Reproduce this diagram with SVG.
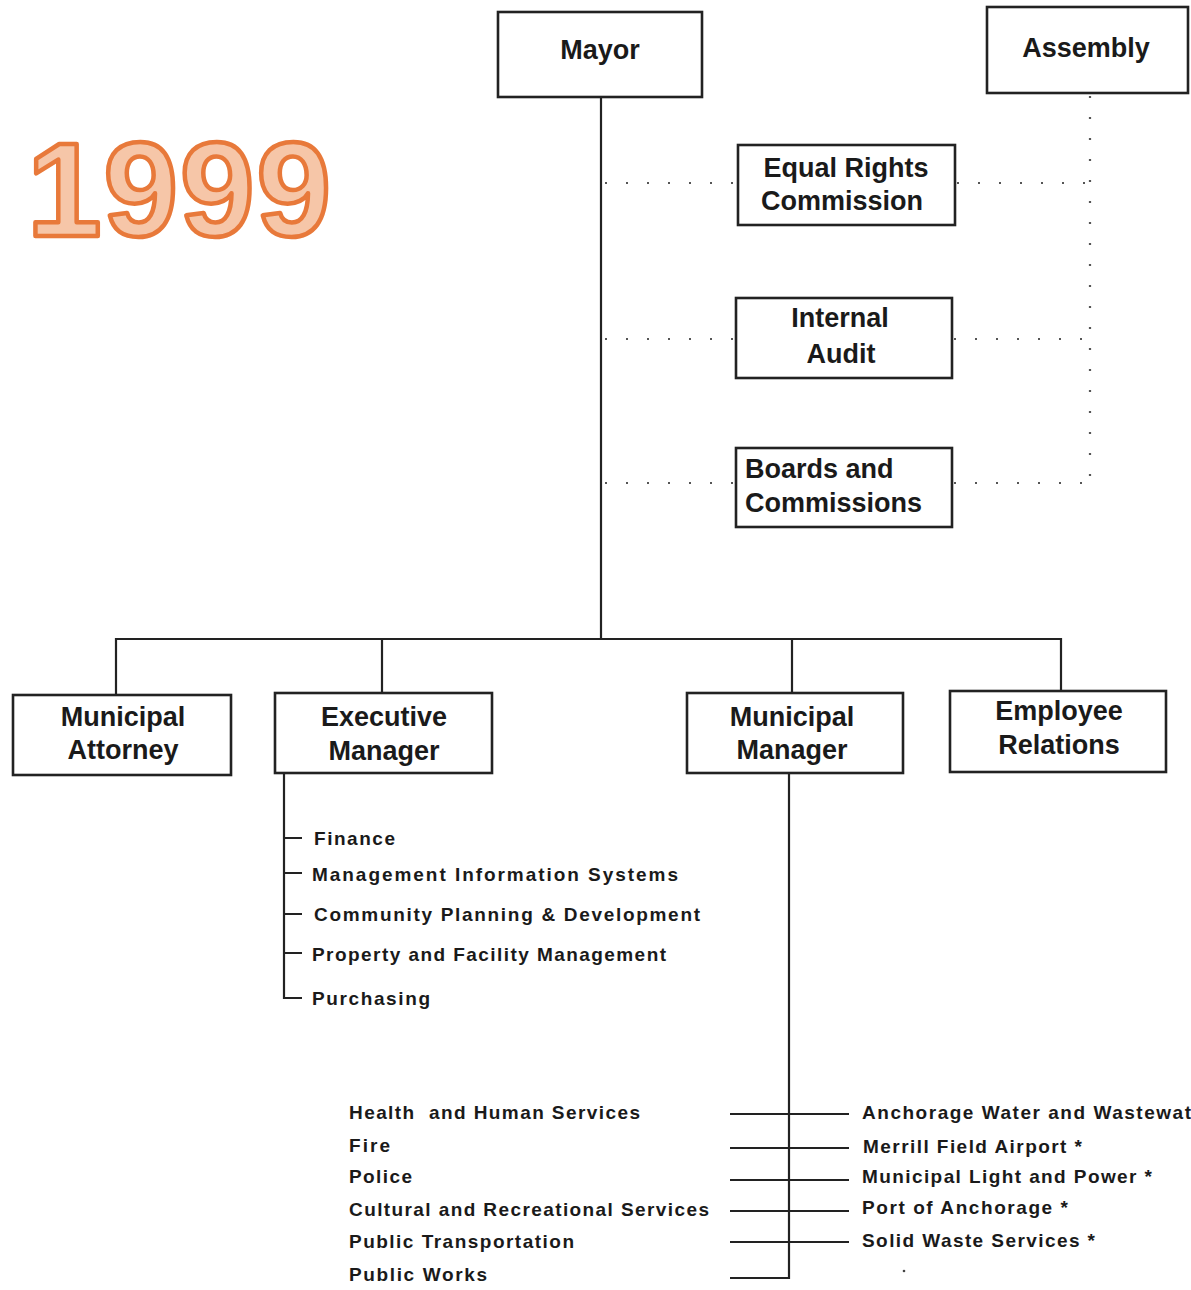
<svg xmlns="http://www.w3.org/2000/svg" width="1191" height="1290" viewBox="0 0 1191 1290">
<style>
.box{fill:#fff;stroke:#222;stroke-width:2.6}
.bt{font-family:"Liberation Sans",Arial,sans-serif;font-weight:bold;font-size:27px;fill:#1a1a1a;text-anchor:middle}
.bl{text-anchor:start}
.st{font-family:"Liberation Sans",Arial,sans-serif;font-weight:bold;font-size:19px;fill:#1a1a1a}
.ln{fill:none;stroke:#222;stroke-width:2.2}
.dt{fill:none;stroke:#555;stroke-width:2.2;stroke-dasharray:2 19}
.yr{font-family:"Liberation Sans",Arial,sans-serif;font-weight:bold;font-size:134px;fill:#F6C6A8;stroke:#E8793A;stroke-width:4.5;stroke-linejoin:round}
</style>
<rect width="1191" height="1290" fill="#fff"/>
<text class="yr" x="27" y="236" textLength="304" lengthAdjust="spacing">1999</text>
<g id="connectors">
<path class="ln" d="M601 97V638"/>
<path class="ln" d="M116 695V639H1061V691"/>
<path class="ln" d="M382 639V693"/>
<path class="ln" d="M792 639V693"/>
<path class="dt" d="M605 183H738M957 183H1090M605 339H736M954 339H1090M605 483H736M954 483H1090M1090 96V483"/>
<path class="ln" d="M284 773V998H302M284 838H302M284 873H302M284 914H302M284 953H302"/>
<path class="ln" d="M789 773V1278H730M730 1114H849M730 1148H849M730 1180H849M730 1211H849M730 1242H849"/>
</g>
<g id="mayor"><rect class="box" x="498" y="12" width="204" height="85"/><text class="bt" x="600" y="59">Mayor</text></g>
<g id="assembly"><rect class="box" x="987" y="7" width="201" height="86"/><text class="bt" x="1086" y="57">Assembly</text></g>
<g id="equal-rights"><rect class="box" x="738" y="145" width="217" height="80"/><text class="bt" x="846" y="177">Equal Rights</text><text class="bt" x="842" y="210">Commission</text></g>
<g id="internal-audit"><rect class="box" x="736" y="298" width="216" height="80"/><text class="bt" x="840" y="327">Internal</text><text class="bt" x="841" y="363">Audit</text></g>
<g id="boards"><rect class="box" x="736" y="448" width="216" height="79"/><text class="bt bl" x="745" y="478">Boards and</text><text class="bt bl" x="745" y="512">Commissions</text></g>
<g id="municipal-attorney"><rect class="box" x="13" y="695" width="218" height="80"/><text class="bt" x="123" y="726">Municipal</text><text class="bt" x="123" y="759">Attorney</text></g>
<g id="executive-manager"><rect class="box" x="275" y="693" width="217" height="80"/><text class="bt" x="384" y="726">Executive</text><text class="bt" x="384" y="760">Manager</text></g>
<g id="municipal-manager"><rect class="box" x="687" y="693" width="216" height="80"/><text class="bt" x="792" y="726">Municipal</text><text class="bt" x="792" y="759">Manager</text></g>
<g id="employee-relations"><rect class="box" x="950" y="691" width="216" height="81"/><text class="bt" x="1059" y="720">Employee</text><text class="bt" x="1059" y="754">Relations</text></g>
<g id="exec-depts">
<text class="st" x="314" y="845" textLength="81" lengthAdjust="spacing">Finance</text>
<text class="st" x="312" y="881" textLength="366" lengthAdjust="spacing">Management Information Systems</text>
<text class="st" x="314" y="921" textLength="386" lengthAdjust="spacing">Community Planning &amp; Development</text>
<text class="st" x="312" y="961" textLength="354" lengthAdjust="spacing">Property and Facility Management</text>
<text class="st" x="312" y="1005" textLength="118" lengthAdjust="spacing">Purchasing</text>
</g>
<g id="mm-depts-left">
<text class="st" x="349" y="1119" textLength="291" lengthAdjust="spacing" xml:space="preserve">Health  and Human Services</text>
<text class="st" x="349" y="1152" textLength="41" lengthAdjust="spacing">Fire</text>
<text class="st" x="349" y="1183" textLength="63" lengthAdjust="spacing">Police</text>
<text class="st" x="349" y="1216" textLength="360" lengthAdjust="spacing">Cultural and Recreational Services</text>
<text class="st" x="349" y="1248" textLength="225" lengthAdjust="spacing">Public Transportation</text>
<text class="st" x="349" y="1281" textLength="138" lengthAdjust="spacing">Public Works</text>
</g>
<g id="mm-depts-right">
<text class="st" x="862" y="1119" textLength="329" lengthAdjust="spacing">Anchorage Water and Wastewat</text>
<text class="st" x="863" y="1153" textLength="219" lengthAdjust="spacing">Merrill Field Airport *</text>
<text class="st" x="862" y="1183" textLength="290" lengthAdjust="spacing">Municipal Light and Power *</text>
<text class="st" x="862" y="1214" textLength="206" lengthAdjust="spacing">Port of Anchorage *</text>
<text class="st" x="862" y="1247" textLength="233" lengthAdjust="spacing">Solid Waste Services *</text>
<circle cx="904" cy="1271" r="1.3" fill="#444"/>
</g>
</svg>
